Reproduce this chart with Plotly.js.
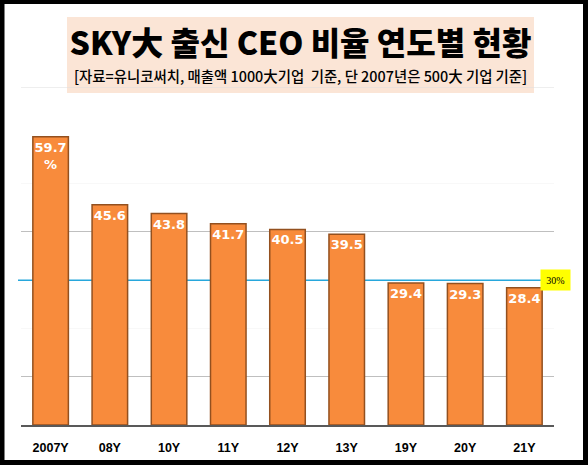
<!DOCTYPE html>
<html>
<head>
<meta charset="utf-8">
<script src="https://cdn.plot.ly/plotly-3.0.1.min.js"></script>
<style>
  html, body { margin: 0; padding: 0; background: #fff; }
  #chart { width: 588px; height: 466px; }
</style>
</head>
<body>
<div id="chart"></div>
<script>
// SKY大 출신 CEO 비율 (%)
var years = ['2007Y', '08Y', '10Y', '11Y', '12Y', '13Y', '19Y', '20Y', '21Y'];
var ratios = [59.7, 45.6, 43.8, 41.7, 40.5, 39.5, 29.4, 29.3, 28.4];
var refLine = 30;
var refLabel = '30%';
var mainTitle = 'SKY大 출신 CEO 비율 연도별 현황';
var subTitle = '[자료=유니코써치, 매출액 1000大기업  기준, 단 2007년은 500大 기업 기준]';

var W = 588, H = 466;
var M = { l: 21, r: 34, t: 87, b: 41 };

// pixel -> paper helpers for the decorations
function pxX(x) { return (x - M.l) / (W - M.l - M.r); }
function pxY(y) { return (H - M.b - y) / (H - M.t - M.b); }

var labels = ratios.map(function (v, i) {
    return i === 0 ? v.toFixed(1) + '<br>%' : v.toFixed(1);
});

var trace = {
    type: 'bar',
    x: years,
    y: ratios,
    text: labels,
    textposition: 'inside',
    insidetextanchor: 'end',
    constraintext: 'none',
    textangle: 0,
    textfont: { family: 'DejaVu Sans', size: 13, color: '#ffffff', weight: 'bold' },
    marker: { color: '#f88b3c', line: { color: '#93501f', width: 1.5 } },
    hoverinfo: 'none'
};

var layout = {
    width: W,
    height: H,
    margin: M,
    paper_bgcolor: '#ffffff',
    plot_bgcolor: '#ffffff',
    showlegend: false,
    bargap: 0.4,
    title: {
        text: mainTitle,
        font: { family: 'Noto Sans CJK KR', size: 32, color: '#000000', weight: 900 },
        xref: 'container', x: 300.5 / W,
        yref: 'container', y: 1 - 44 / H, yanchor: 'middle'
    },
    xaxis: {
        type: 'category',
        showgrid: false,
        showline: true,
        linecolor: '#595959',
        linewidth: 1.5,
        ticks: '',
        ticklabelstandoff: 10,
        tickfont: { family: 'Liberation Sans', size: 12.5, color: '#000000', weight: 'bold' }
    },
    yaxis: {
        range: [0, 70],
        tickvals: [10, 40],
        showticklabels: false,
        gridcolor: '#bfbfbf',
        gridwidth: 1,
        zeroline: false,
        showline: false
    },
    shapes: [
        { type: 'rect', xref: 'paper', yref: 'paper', layer: 'below',
          x0: pxX(67), x1: pxX(534), y0: pxY(93), y1: pxY(17),
          fillcolor: '#fbe5d6', line: { width: 0 } },
        { type: 'line', xref: 'paper', yref: 'y', layer: 'below',
          x0: 0, x1: 1, y0: 70, y1: 70, line: { color: '#dedede', width: 1 } },
        { type: 'line', xref: 'paper', yref: 'y', layer: 'below',
          x0: 0, x1: 1, y0: 50, y1: 50, line: { color: '#f8f8f8', width: 1 } },
        { type: 'line', xref: 'paper', yref: 'y', layer: 'below',
          x0: 0, x1: 1, y0: 20, y1: 20, line: { color: '#f8f8f8', width: 1 } },
        { type: 'line', xref: 'paper', yref: 'y', layer: 'below',
          x0: pxX(18), x1: pxX(557), y0: refLine, y1: refLine,
          line: { color: '#27a7dc', width: 1.5 } },
        { type: 'rect', xref: 'paper', yref: 'paper', layer: 'above',
          x0: pxX(2), x1: pxX(585.5), y0: pxY(462.5), y1: pxY(1.5),
          line: { color: '#000000', width: 5 } }
    ],
    annotations: [
        { xref: 'paper', yref: 'paper', x: pxX(300), y: pxY(76),
          text: subTitle, showarrow: false, yanchor: 'middle',
          font: { family: 'Noto Sans CJK KR', size: 14.4, color: '#000000', weight: 500 } },
        { xref: 'paper', yref: 'y', x: pxX(571), y: refLine,
          text: refLabel, showarrow: false, yanchor: 'middle',
          bgcolor: '#ffff00', width: 25, height: 16, borderpad: 2,
          font: { family: 'Liberation Serif', size: 10, color: '#000000' } }
    ]
};

Plotly.newPlot('chart', [trace], layout, { displayModeBar: false, staticPlot: true });
</script>
</body>
</html>
